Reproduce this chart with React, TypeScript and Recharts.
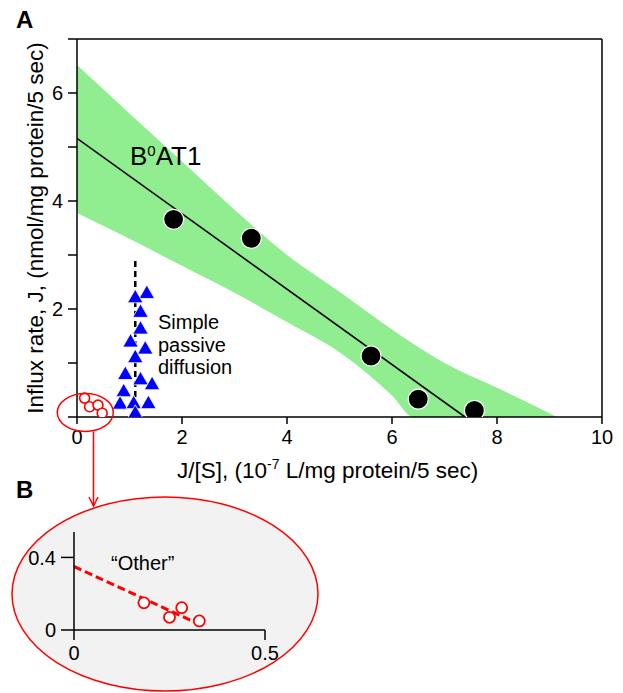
import React from 'react';
import { ComposedChart, Area, Line, Scatter, XAxis, YAxis, ReferenceLine } from 'recharts';

// ---- Panel A data ----
const bandX = [0, 1, 2, 3, 4, 5, 6, 6.41, 7, 8, 9, 9.14];
const bandHigh = [6.52, 5.62, 4.73, 3.84, 3.0, 2.32, 1.62, 1.35, 1.0, 0.54, 0.07, 0];
const bandLow = [3.78, 3.3, 2.8, 2.3, 1.76, 1.2, 0.4, 0, 0, 0, 0, 0];

const fitX = [0, 7.39];
const fitY = [5.16, 0];

const b0at1X = [1.84, 3.32, 5.6, 6.5, 7.57];
const b0at1Y = [3.66, 3.31, 1.13, 0.33, 0.12];

const diffX = [1.33, 1.11, 1.21, 1.21, 1.02, 1.3, 1.11, 0.92, 1.21, 1.43, 0.89, 0.82, 1.08, 1.36, 1.11];
const diffY = [2.32, 2.24, 1.97, 1.66, 1.42, 1.29, 1.13, 0.82, 0.72, 0.63, 0.5, 0.27, 0.28, 0.28, 0.1];

const diffLineX = [1.11, 1.11];
const diffLineY = [0, 2.94];

const otherMainX = [0.145, 0.24, 0.4, 0.48];
const otherMainY = [0.35, 0.19, 0.22, 0.07];

const xTicksA = [0, 2, 4, 6, 8, 10];
const yTicksA = [0, 1, 2, 3, 4, 5, 6, 7];
const yLabelledA = [2, 4, 6];

// ---- Panel B data ----
const otherX = [0.183, 0.25, 0.282, 0.328];
const otherY = [0.15, 0.07, 0.123, 0.05];
const otherFitX = [0, 0.34];
const otherFitY = [0.35, 0.02];
const xTicksB = [0, 0.5];
const yTicksB = [0, 0.4];

const FONT = '"Liberation Sans", Arial, Helvetica, sans-serif';

const bandData = bandX.map((x, i) => ({ x, band: [bandLow[i], bandHigh[i]] }));
const toXY = (xs: number[], ys: number[]) => xs.map((x, i) => ({ x, y: ys[i] }));
const fitData = toXY(fitX, fitY);
const b0Data = toXY(b0at1X, b0at1Y);
const diffData = toXY(diffX, diffY);
const diffLineData = toXY(diffLineX, diffLineY);
const otherMainData = toXY(otherMainX, otherMainY);
const otherData = toXY(otherX, otherY);
const otherFitData = toXY(otherFitX, otherFitY);

const BlackDot = (p: any) => (
  <circle cx={p.cx} cy={p.cy} r={10} fill="#000" stroke="#fff" strokeWidth={1.2} />
);
const BlueTri = (p: any) => {
  const s = 15.5, h = 13.5;
  const { cx, cy } = p;
  return (
    <polygon
      points={`${cx},${cy - h / 2} ${cx - s / 2},${cy + h / 2} ${cx + s / 2},${cy + h / 2}`}
      fill="#0000ff"
      stroke="#fff"
      strokeWidth={0.8}
    />
  );
};
const RedOpen = (p: any) => (
  <circle cx={p.cx} cy={p.cy} r={5} fill="#fff" stroke="#ff0000" strokeWidth={1.6} />
);
const RedOpenB = (p: any) => (
  <circle cx={p.cx} cy={p.cy} r={5.5} fill="#fff" stroke="#ff0000" strokeWidth={1.8} />
);

const tickStyle = { fontSize: 20, fill: '#000', fontFamily: FONT };
const axisLine = { stroke: '#000', strokeWidth: 1.5 };

export default function App() {
  return (
    <div style={{ position: 'absolute', left: 0, top: 0, width: 623, height: 693, background: '#fff', fontFamily: FONT }}>
      {/* background ellipse for panel B */}
      <svg width={623} height={693} style={{ position: 'absolute', left: 0, top: 0 }}>
        <ellipse cx={165} cy={594} rx={153} ry={97} fill="#f2f2f2" stroke="#ff0000" strokeWidth={1.5} />
      </svg>

      <div style={{ position: 'absolute', left: 0, top: 0 }}>
        <ComposedChart
          width={623}
          height={470}
          data={bandData}
          margin={{ top: 39, right: 21, left: 37, bottom: 23 }}
        >
          <XAxis
            type="number"
            dataKey="x"
            domain={[0, 10]}
            ticks={xTicksA}
            height={30}
            tickSize={7}
            tickMargin={6}
            tick={tickStyle}
            axisLine={axisLine}
            tickLine={axisLine}
            allowDataOverflow
          />
          <YAxis
            type="number"
            domain={[0, 7]}
            ticks={yTicksA}
            width={40}
            tickSize={9}
            tickMargin={5}
            tick={tickStyle}
            tickFormatter={(v: number) => (yLabelledA.includes(v) ? String(v) : '')}
            axisLine={axisLine}
            tickLine={axisLine}
            allowDataOverflow
          />
          <Area
            type="monotone"
            dataKey="band"
            stroke="none"
            fill="#90ee90"
            fillOpacity={1}
            isAnimationActive={false}
            dot={false}
            activeDot={false}
          />
          <ReferenceLine y={7} stroke="#000" strokeWidth={1.5} />
          <ReferenceLine x={10} stroke="#000" strokeWidth={1.5} />
          <Line
            data={fitData}
            dataKey="y"
            stroke="#000"
            strokeWidth={1.6}
            dot={false}
            activeDot={false}
            isAnimationActive={false}
          />
          <Line
            data={diffLineData}
            dataKey="y"
            stroke="#000"
            strokeWidth={2.5}
            strokeDasharray="6 4"
            dot={false}
            activeDot={false}
            isAnimationActive={false}
          />
          <Scatter data={diffData} dataKey="y" shape={BlueTri} isAnimationActive={false} />
          <Scatter data={b0Data} dataKey="y" shape={BlackDot} isAnimationActive={false} />
          <Scatter data={otherMainData} dataKey="y" shape={RedOpen} isAnimationActive={false} />
        </ComposedChart>
      </div>

      <div style={{ position: 'absolute', left: 0, top: 470 }}>
        <ComposedChart
          width={320}
          height={223}
          data={otherData}
          margin={{ top: 62, right: 55, left: 34, bottom: 33 }}
        >
          <XAxis
            type="number"
            dataKey="x"
            domain={[0, 0.5]}
            ticks={xTicksB}
            height={30}
            tickSize={10}
            tickMargin={6}
            tick={tickStyle}
            axisLine={axisLine}
            tickLine={axisLine}
            allowDataOverflow
          />
          <YAxis
            type="number"
            domain={[0, 0.54]}
            ticks={yTicksB}
            width={40}
            tickSize={13}
            tickMargin={5}
            tick={tickStyle}
            axisLine={axisLine}
            tickLine={axisLine}
            allowDataOverflow
          />
          <Line
            data={otherFitData}
            dataKey="y"
            stroke="#ff0000"
            strokeWidth={3}
            strokeDasharray="8 4"
            dot={false}
            activeDot={false}
            isAnimationActive={false}
          />
          <Scatter data={otherData} dataKey="y" shape={RedOpenB} isAnimationActive={false} />
        </ComposedChart>
      </div>

      {/* annotations */}
      <svg width={623} height={693} style={{ position: 'absolute', left: 0, top: 0, pointerEvents: 'none' }} fontFamily={FONT}>
        <text x={16} y={28} fontSize={24} fontWeight="bold" fill="#000">A</text>
        <text x={16} y={498} fontSize={24} fontWeight="bold" fill="#000">B</text>

        <text
          x={0}
          y={0}
          transform="translate(43,228) rotate(-90)"
          textAnchor="middle"
          fontSize={22.5}
          fill="#000"
        >
          Influx rate, J, (nmol/mg protein/5 sec)
        </text>

        <text x={177} y={478} fontSize={22.5} fill="#000">
          J/[S], (10
          <tspan fontSize={14} dy={-9}>-7</tspan>
          <tspan dy={9}> L/mg protein/5 sec)</tspan>
        </text>

        <text x={130} y={165} fontSize={26} fill="#000">
          B<tspan fontSize={15} dy={-9}>0</tspan>
          <tspan dy={9}>AT1</tspan>
        </text>

        <text x={158} y={329} fontSize={20} fill="#000">Simple</text>
        <text x={158} y={351.5} fontSize={20} fill="#000">passive</text>
        <text x={158} y={374} fontSize={20} fill="#000">diffusion</text>

        <text x={111} y={570} fontSize={20} fill="#000">{'\u201COther\u201D'}</text>

        <ellipse cx={85.3} cy={412.5} rx={28} ry={19} fill="none" stroke="#ff0000" strokeWidth={1.5} />
        <line x1={93.5} y1={431.5} x2={93.5} y2={506} stroke="#ff0000" strokeWidth={1.5} />
        <polyline points="89,497 93.5,506 98,497" fill="none" stroke="#ff0000" strokeWidth={1.5} />
      </svg>
    </div>
  );
}
